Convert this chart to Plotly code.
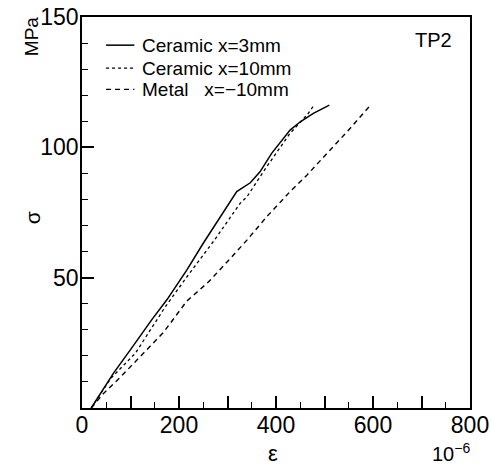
import plotly.graph_objects as go

# Ceramic x=3mm (solid)
strain_c3 = [19, 65, 100, 144, 175, 216, 250, 288, 319, 347, 367, 391, 429, 450, 477, 510]
stress_c3 = [0, 13.4, 22.4, 33.9, 41.5, 52.9, 63.2, 74.0, 83.0, 86.4, 90.6, 97.7, 106.6, 109.8, 113.0, 116.2]
# Ceramic x=10mm (dotted)
strain_c10 = [19, 60, 110, 130, 158, 172, 215, 258, 273, 326, 340, 381, 429, 464, 477]
stress_c10 = [0, 11.5, 21.0, 26.7, 35.0, 38.9, 50.0, 60.6, 64.4, 78.5, 81.0, 92.6, 105.4, 112.4, 115.8]
# Metal x=-10mm (dashed)
strain_m = [19, 45, 80, 113, 168, 216, 261, 306, 340, 381, 429, 464, 512, 553, 593]
stress_m = [0, 5.7, 12.0, 18.5, 29.0, 41.0, 48.4, 57.4, 64.4, 73.4, 83.0, 89.4, 99.0, 107.3, 115.8]

names = ["Ceramic x=3mm", "Ceramic x=10mm", "Metal\u00a0\u00a0\u00a0x=\u221210mm"]
dashes = ["solid", "dot", "5px,4px"]
widths = [1.5, 1.3, 1.4]
x_ticks = [0, 100, 200, 300, 400, 500, 600, 700, 800]
x_ticktext = ["0", "", "200", "", "400", "", "600", "", "800"]
y_ticks = [50, 100, 150]

FONT = "Liberation Sans, Arial, sans-serif"

fig = go.Figure()
series = [(strain_c3, stress_c3), (strain_c10, stress_c10), (strain_m, stress_m)]
for (xs, ys), nm, ds, w in zip(series, names, dashes, widths):
    fig.add_trace(go.Scatter(x=xs, y=ys, mode="lines", name=nm, showlegend=False,
                             line=dict(color="black", width=w, dash=ds)))

# hand-drawn legend (paper coordinates)
leg_y = [0.928, 0.869, 0.815]
shapes = []
annos = []
for nm, ds, w, yy in zip(names, dashes, widths, leg_y):
    shapes.append(dict(type="line", xref="paper", yref="paper", x0=0.062, x1=0.135,
                       y0=yy, y1=yy, line=dict(color="black", width=w, dash=ds)))
    annos.append(dict(text=nm, x=0.150, y=yy, xref="paper", yref="paper", xanchor="left",
                      yanchor="middle", showarrow=False, font=dict(size=19)))

annos += [
    dict(text="TP2", x=0.959, y=0.941, xref="paper", yref="paper", xanchor="right",
         yanchor="middle", showarrow=False, font=dict(size=20)),
    dict(text="\u03c3", x=-0.162, y=0.487, xref="paper", yref="paper", showarrow=False,
         textangle=-90, font=dict(size=21)),
    dict(text="MPa", x=-0.162, y=0.950, xref="paper", yref="paper", showarrow=False,
         textangle=-90, yanchor="middle", font=dict(size=19)),
    dict(text="\u03b5", x=0.491, y=-0.117, xref="paper", yref="paper", showarrow=False,
         yanchor="middle", font=dict(size=22)),
    dict(text="10<sup>\u22126</sup>", x=1.005, y=-0.1145, xref="paper", yref="paper",
         showarrow=False, xanchor="right", yanchor="middle", font=dict(size=20)),
]

fig.update_layout(
    width=491, height=467,
    margin=dict(l=82, r=21, t=17, b=59),
    paper_bgcolor="white", plot_bgcolor="white",
    font=dict(family=FONT, color="black", size=21),
    showlegend=False,
    xaxis=dict(range=[0, 800], tickvals=x_ticks, ticktext=x_ticktext, automargin=False,
               ticks="inside", ticklen=12, tickwidth=1.5, tickcolor="black",
               ticklabelstandoff=-4, ticklabeloverflow="allow",
               minor=dict(dtick=50, ticks="inside", ticklen=6, tickwidth=1.2, tickcolor="black"),
               showline=True, linecolor="black", linewidth=1.5, mirror=True,
               showgrid=False, zeroline=False, tickfont=dict(size=23)),
    yaxis=dict(range=[0, 150], tickvals=y_ticks, automargin=False,
               ticks="inside", ticklen=12, tickwidth=1.5, tickcolor="black",
               ticklabelstandoff=-3, ticklabeloverflow="allow",
               minor=dict(dtick=10, ticks="inside", ticklen=6, tickwidth=1.2, tickcolor="black"),
               showline=True, linecolor="black", linewidth=1.5, mirror=True,
               showgrid=False, zeroline=False, tickfont=dict(size=23)),
    shapes=shapes,
    annotations=annos,
)

# remove the page's default body margin so the figure fills the window exactly
fig.write_html("out.html", config={"displayModeBar": False},
               post_script="document.body.style.margin='0';")
